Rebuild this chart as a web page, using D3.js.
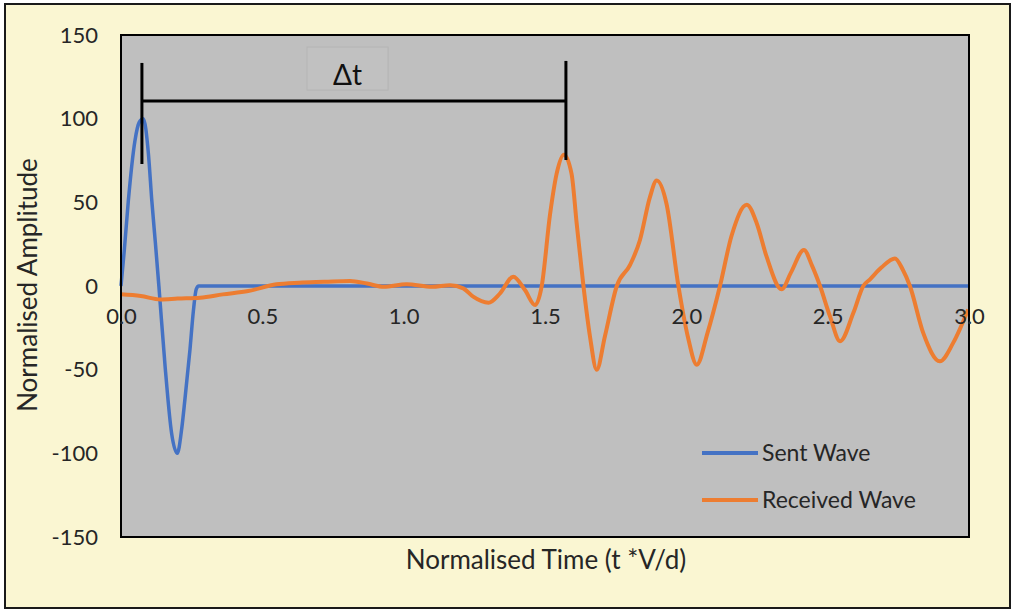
<!DOCTYPE html>
<html>
<head>
<meta charset="utf-8">
<script src="https://cdn.jsdelivr.net/npm/d3@7"></script>
<style>
body { margin: 0; background: #fff; }
text { font-family: Lato, "Open Sans", sans-serif; }
</style>
</head>
<body>
<svg id="chart" width="1014" height="611"></svg>
<script>
// values
var xTicks = [0, 0.5, 1.0, 1.5, 2.0, 2.5, 3.0];
var yTicks = [-150, -100, -50, 0, 50, 100, 150];

var sentTime = [0, 0.012, 0.026, 0.0495, 0.065, 0.079, 0.097, 0.109, 0.122, 0.134, 0.156, 0.179, 0.199, 0.215, 0.226, 0.244, 0.256, 0.266, 0.275, 3.0];
var sentAmp  = [0, 22, 51, 87, 98, 100, 79, 51, 25, 0, -48, -88, -100, -85, -68, -38, -15, -2, 0, 0];

var recvTime = [0, 0.07, 0.14, 0.2, 0.28, 0.36, 0.45, 0.55, 0.63, 0.72, 0.81, 0.87, 0.93, 1.01, 1.10, 1.164, 1.211, 1.246, 1.300, 1.341,
	1.388, 1.429, 1.465, 1.488, 1.518, 1.541, 1.567, 1.594, 1.612, 1.636, 1.659, 1.683, 1.712, 1.754, 1.801, 1.836, 1.871, 1.895, 1.93, 1.972,
	2.005, 2.037, 2.075, 2.119, 2.16, 2.214, 2.249, 2.284, 2.337, 2.37, 2.416, 2.445, 2.473, 2.508, 2.544, 2.591, 2.626, 2.65, 2.69, 2.738,
	2.765, 2.791, 2.838, 2.897, 2.944, 2.997];
var recvAmp  = [-5, -6, -8, -7.5, -7, -5, -3, 1, 2, 2.5, 3, 1.5, -0.5, 1, -0.5, 0.5, -1.4, -6.4, -10, -4.4,
	5.6, -2.4, -11.4, -0.4, 43, 67, 78.5, 67, 37.5, 0, -30, -50, -30, 0, 12.6, 27.5, 53, 63, 49, 0,
	-30, -47, -28, 0, 30, 48.5, 37.5, 17.5, -2, 8, 21.5, 12, 0, -18, -33, -16, 0, 4, 11, 16.5,
	10, 0, -28, -45, -34, -14];

var seriesNames = ["Sent Wave", "Received Wave"];
var seriesColors = ["#4472C4", "#ED7D31"];

// delta t bracket, in data units
var deltaT = [0.074, 1.574];
var deltaLeftSpan = [133.3, 72.9];
var deltaRightSpan = [134.5, 75.3];
var deltaBarY = 110.6;
var deltaBox = [0.658, 0.945, 142.8, 117.1];

var svg = d3.select("#chart"),
	margin = { top: 35, right: 45, bottom: 74, left: 121 },
	width = 1014 - margin.left - margin.right,
	height = 611 - margin.top - margin.bottom;

// outer cream panel
svg.append("rect")
	.attr("x", 5).attr("y", 4)
	.attr("width", 1005).attr("height", 604)
	.attr("fill", "#FAF6D2")
	.attr("stroke", "#1a1a1a")
	.attr("stroke-width", 2);

var g = svg.append("g").attr("transform", "translate(" + margin.left + "," + margin.top + ")");

var x = d3.scaleLinear().domain([0, 3]).range([0, width]);
var y = d3.scaleLinear().domain([-150, 150]).range([height, 0]);

g.append("rect")
	.attr("width", width).attr("height", height)
	.attr("fill", "#BFBFBF");

var line = d3.line()
	.x(function (d) { return x(d[0]); })
	.y(function (d) { return y(d[1]); })
	.curve(d3.curveMonotoneX);

var sent = sentTime.map(function (t, i) { return [t, sentAmp[i]]; });
var recv = recvTime.map(function (t, i) { return [t, recvAmp[i]]; });

g.append("path")
	.datum(sent)
	.attr("fill", "none")
	.attr("stroke", seriesColors[0])
	.attr("stroke-width", 3.5)
	.attr("d", line);

g.append("path")
	.datum(recv)
	.attr("fill", "none")
	.attr("stroke", seriesColors[1])
	.attr("stroke-width", 4)
	.attr("stroke-linejoin", "round")
	.attr("d", line);

// plot border
g.append("rect")
	.attr("width", width).attr("height", height)
	.attr("fill", "none")
	.attr("stroke", "#000")
	.attr("stroke-width", 2);

// y axis labels
g.append("g")
	.call(d3.axisLeft(y).tickValues(yTicks).tickFormat(function (d) { return String(d); }).tickSize(0).tickPadding(23))
	.call(function (a) { a.select(".domain").remove(); })
	.selectAll("text")
	.attr("font-size", "22px")
	.attr("fill", "#262626");

// x axis labels, sitting on the zero line
g.append("g")
	.attr("transform", "translate(0," + y(0) + ")")
	.call(d3.axisBottom(x).tickValues(xTicks).tickFormat(d3.format(".1f")).tickSize(0).tickPadding(22))
	.call(function (a) { a.select(".domain").remove(); })
	.selectAll("text")
	.attr("font-size", "22px")
	.attr("fill", "#262626");

// delta t annotation
g.append("rect")
	.attr("x", x(deltaBox[0])).attr("y", y(deltaBox[2]))
	.attr("width", x(deltaBox[1]) - x(deltaBox[0]))
	.attr("height", y(deltaBox[3]) - y(deltaBox[2]))
	.attr("fill", "#C1C1C1")
	.attr("stroke", "#B4B4B4")
	.attr("stroke-width", 1);

g.append("text")
	.attr("x", (x(deltaBox[0]) + x(deltaBox[1])) / 2)
	.attr("y", y(deltaBox[3]) - 5)
	.attr("text-anchor", "middle")
	.attr("font-size", "28px")
	.attr("fill", "#111")
	.text("\u0394t");

var ann = g.append("g").attr("stroke", "#000").attr("stroke-width", 3);
ann.append("line")
	.attr("x1", x(deltaT[0])).attr("x2", x(deltaT[0]))
	.attr("y1", y(deltaLeftSpan[0])).attr("y2", y(deltaLeftSpan[1]));
ann.append("line")
	.attr("x1", x(deltaT[1])).attr("x2", x(deltaT[1]))
	.attr("y1", y(deltaRightSpan[0])).attr("y2", y(deltaRightSpan[1]));
ann.append("line")
	.attr("x1", x(deltaT[0])).attr("x2", x(deltaT[1]))
	.attr("y1", y(deltaBarY)).attr("y2", y(deltaBarY));

// legend
var legend = g.selectAll(".legend")
	.data(seriesNames)
	.enter().append("g")
	.attr("class", "legend")
	.attr("transform", function (d, i) { return "translate(581," + (418 + i * 47) + ")"; });

legend.append("line")
	.attr("x1", 0).attr("x2", 56)
	.attr("stroke", function (d, i) { return seriesColors[i]; })
	.attr("stroke-width", 4);

legend.append("text")
	.attr("x", 60)
	.attr("dy", "0.35em")
	.attr("font-size", "23px")
	.attr("fill", "#262626")
	.text(function (d) { return d; });

// axis titles
svg.append("text")
	.attr("x", 546).attr("y", 560)
	.attr("dy", "0.35em")
	.attr("text-anchor", "middle")
	.attr("font-size", "26px")
	.attr("fill", "#262626")
	.text("Normalised Time (t *V/d)");

svg.append("text")
	.attr("transform", "translate(28,285) rotate(-90)")
	.attr("dy", "0.35em")
	.attr("text-anchor", "middle")
	.attr("font-size", "26px")
	.attr("fill", "#262626")
	.text("Normalised Amplitude");
</script>
</body>
</html>
